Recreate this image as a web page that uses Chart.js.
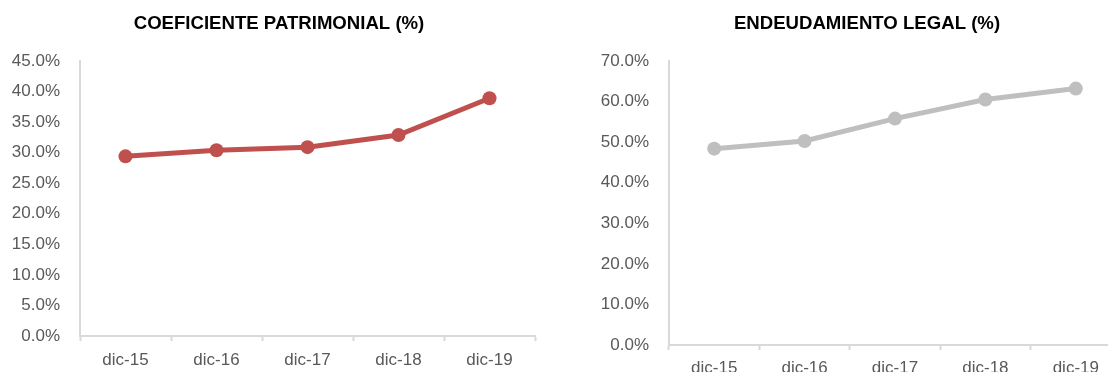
<!DOCTYPE html>
<html>
<head>
<meta charset="utf-8">
<script src="https://cdn.jsdelivr.net/npm/chart.js@4/dist/chart.umd.min.js"></script>
<style>
    html, body { margin: 0; padding: 0; background: #fff; width: 1108px; height: 372px; overflow: hidden; position: relative; }
    .box { position: absolute; top: 0; }
</style>
</head>
<body>
<div class="box" style="left:0px"><canvas id="PatrimonialGraph" width="554" height="372"></canvas></div>
<div class="box" style="left:554px"><canvas id="EndeudamientoGraph" width="626" height="380"></canvas></div>
<script>
const categories = ["dic-15", "dic-16", "dic-17", "dic-18", "dic-19"];
const coeficientePatrimonial = [29.4, 30.4, 30.9, 32.9, 38.9];
const endeudamientoLegal = [48.4, 50.3, 55.8, 60.5, 63.2];

const fontFamily = "'Liberation Sans', Arial, sans-serif";
const axisColor = "#d9d9d9";
const labelColor = "#595959";

// moves the title box so its text is centred on a given x
const titleCenter = {
    id: "titleCenter",
    afterLayout: function (chart, args, opts) {
        let t = chart.titleBlock;
        if (!t || opts.x === undefined) return;
        let half = (t.right - t.left) / 2;
        t.left = opts.x - half;
        t.right = opts.x + half;
    }
};

function makeChart(canvasId, title, values, color, yMax, yStep, yWidth, xHeight, xPad, padRight, titleX) {
    let context = document.getElementById(canvasId).getContext("2d");
    return new Chart(context, {
        type: "line",
        data: {
            labels: categories,
            datasets: [{
                label: title,
                data: values,
                borderColor: color,
                backgroundColor: color,
                borderWidth: 5,
                pointRadius: 7,
                pointBackgroundColor: color,
                pointBorderWidth: 0,
                lineTension: 0
            }]
        },
        plugins: [titleCenter],
        options: {
            responsive: false,
            animation: false,
            layout: { padding: { left: 0, right: padRight, top: 0, bottom: 0 } },
            plugins: {
                legend: { display: false },
                tooltip: { enabled: false },
                titleCenter: { x: titleX },
                title: {
                    display: true,
                    text: title,
                    color: "#000",
                    font: { family: fontFamily, size: 18.6, weight: "bold" },
                    padding: { top: 13, bottom: 25.68 }
                }
            },
            scales: {
                x: {
                    offset: true,
                    grid: { offset: true, drawOnChartArea: false, drawTicks: true, tickLength: 5, tickColor: axisColor, tickWidth: 2 },
                    border: { color: axisColor, width: 2 },
                    ticks: { color: labelColor, font: { family: fontFamily, size: 17 }, padding: xPad, maxRotation: 0 },
                    afterFit: function (scale) { scale.height = xHeight; }
                },
                y: {
                    min: 0,
                    max: yMax,
                    grid: { drawOnChartArea: false, drawTicks: false },
                    border: { color: axisColor, width: 2 },
                    ticks: {
                        stepSize: yStep,
                        color: labelColor,
                        font: { family: fontFamily, size: 17 },
                        padding: 20,
                        callback: function (value) { return value.toFixed(1) + "%"; }
                    },
                    afterFit: function (scale) { scale.width = yWidth; }
                }
            }
        }
    });
}

makeChart("PatrimonialGraph", "COEFICIENTE PATRIMONIAL (%)", coeficientePatrimonial, "#c0504d", 45, 5, 80, 36, 9, 19, 279);
makeChart("EndeudamientoGraph", "ENDEUDAMIENTO LEGAL (%)", endeudamientoLegal, "#bfbfbf", 70, 10, 115, 35, 8, 59, 313);
</script>
</body>
</html>
